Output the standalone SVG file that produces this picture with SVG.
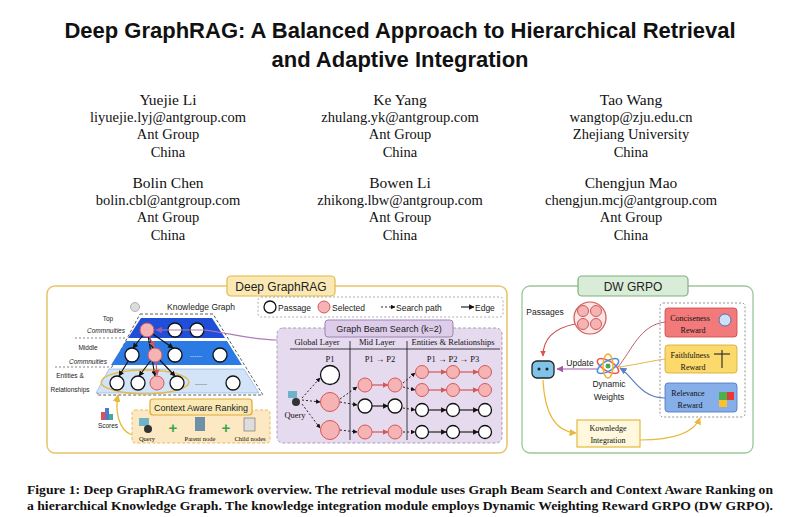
<svg xmlns="http://www.w3.org/2000/svg" width="800" height="517" viewBox="0 0 800 517">
<defs>
<style>
.t{font-family:"Liberation Serif",serif;fill:#111;text-anchor:middle}
.s{font-family:"Liberation Sans",sans-serif;fill:#222}
.w{fill:#fff;stroke:#111;stroke-width:1.3}
.p{fill:#f6b3b3;stroke:#d45858;stroke-width:1}
.e{stroke:#111;stroke-width:1.1;fill:none;marker-end:url(#ab)}
.d{stroke:#111;stroke-width:0.9;fill:none;stroke-dasharray:2 2;marker-end:url(#ab)}
.r{stroke:#d45858;stroke-width:1.2;fill:none;marker-end:url(#ar)}
</style>
<marker id="ab" viewBox="0 0 10 10" refX="9" refY="5" markerWidth="5" markerHeight="5" orient="auto"><path d="M0,0L10,5L0,10z" fill="#111"/></marker>
<marker id="ar" viewBox="0 0 10 10" refX="9" refY="5" markerWidth="5" markerHeight="5" orient="auto"><path d="M0,0L10,5L0,10z" fill="#d45858"/></marker>
<marker id="ay" viewBox="0 0 10 10" refX="9" refY="5" markerWidth="6" markerHeight="6" orient="auto"><path d="M0,0L10,5L0,10z" fill="#e7b93a"/></marker>
<marker id="ap" viewBox="0 0 10 10" refX="9" refY="5" markerWidth="6" markerHeight="6" orient="auto"><path d="M0,0L10,5L0,10z" fill="#a05aa8"/></marker>
<marker id="abl" viewBox="0 0 10 10" refX="9" refY="5" markerWidth="6" markerHeight="6" orient="auto"><path d="M0,0L10,5L0,10z" fill="#5b7fc4"/></marker>
</defs>
<rect width="800" height="517" fill="#fff"/>
<g id="header">
<text x="400" y="38" style="font-family:'Liberation Sans',sans-serif;font-weight:bold;font-size:22px;text-anchor:middle" fill="#111">Deep GraphRAG: A Balanced Approach to Hierarchical Retrieval</text>
<text x="400" y="67" style="font-family:'Liberation Sans',sans-serif;font-weight:bold;font-size:22px;text-anchor:middle" fill="#111">and Adaptive Integration</text>
<g font-size="14.5" class="t">
<text x="168" y="105" class="t" font-size="15.5">Yuejie Li</text><text x="168" y="122" class="t">liyuejie.lyj@antgroup.com</text><text x="168" y="139" class="t">Ant Group</text><text x="168" y="157" class="t">China</text>
<text x="400" y="105" class="t" font-size="15.5">Ke Yang</text><text x="400" y="122" class="t">zhulang.yk@antgroup.com</text><text x="400" y="139" class="t">Ant Group</text><text x="400" y="157" class="t">China</text>
<text x="631" y="105" class="t" font-size="15.5">Tao Wang</text><text x="631" y="122" class="t">wangtop@zju.edu.cn</text><text x="631" y="139" class="t">Zhejiang University</text><text x="631" y="157" class="t">China</text>
<text x="168" y="188" class="t" font-size="15.5">Bolin Chen</text><text x="168" y="205" class="t">bolin.cbl@antgroup.com</text><text x="168" y="222" class="t">Ant Group</text><text x="168" y="240" class="t">China</text>
<text x="400" y="188" class="t" font-size="15.5">Bowen Li</text><text x="400" y="205" class="t">zhikong.lbw@antgroup.com</text><text x="400" y="222" class="t">Ant Group</text><text x="400" y="240" class="t">China</text>
<text x="631" y="188" class="t" font-size="15.5">Chengjun Mao</text><text x="631" y="205" class="t">chengjun.mcj@antgroup.com</text><text x="631" y="222" class="t">Ant Group</text><text x="631" y="240" class="t">China</text>
</g>
</g>
<g id="deep-graphrag">
<rect x="47" y="286" width="460" height="167" rx="8" fill="#fff" stroke="#e8c46a" stroke-width="1.5"/>
<rect x="227" y="276" width="108" height="20" rx="4" fill="#fbe9b5" stroke="#e2b949" stroke-width="1.2"/>
<text x="281" y="291" class="s" font-size="12" text-anchor="middle">Deep GraphRAG</text>
<text x="167" y="310" class="s" font-size="8.5">Knowledge Graph</text>
<circle cx="135" cy="307" r="4.5" fill="#ddd" stroke="#888" stroke-width="0.6"/>
<polygon points="140,314 213,314 263,395 97,395" fill="none" stroke="#333" stroke-width="0.8" stroke-dasharray="3 2"/>
<polygon points="141,318 212,318 225,338 128,338" fill="#1f4fd8"/>
<polygon points="126,341 227,341 242,365 111,365" fill="#2c7be5"/>
<polygon points="109,369 244,369 259,393 96,393" fill="#d3e4f8" stroke="#7fa7dd" stroke-width="0.6"/>
<g class="s" font-size="6.5" text-anchor="middle"><text x="108" y="321">Top</text><text x="106" y="333" font-style="italic">Commnuities</text><text x="88" y="350">Middle</text><text x="88" y="364" font-style="italic">Commnuities</text><text x="70" y="378">Entities &amp;</text><text x="70" y="392">Relationships</text></g>
<line x1="75" y1="338" x2="127" y2="338" stroke="#333" stroke-width="0.6" stroke-dasharray="2 2"/>
<line x1="55" y1="367" x2="110" y2="367" stroke="#333" stroke-width="0.6" stroke-dasharray="2 2"/>
<ellipse cx="145" cy="382" rx="44" ry="12" fill="none" stroke="#e7b93a" stroke-width="1.3"/>
<g class="e"><path d="M147,330L133,348"/><path d="M147,330L153,348"/><path d="M147,330L173,348"/><path d="M132,355L119,376"/><path d="M155,355L139,376"/><path d="M155,355L175,376"/><path d="M147,330L155,376"/></g>
<path class="r" d="M149,336L154,347"/><path class="r" d="M156,362L157,375"/>
<circle cx="147" cy="330" r="7" class="p"/><circle cx="175" cy="330" r="7" class="w"/><circle cx="197" cy="330" r="7" class="w"/>
<circle cx="132" cy="355" r="7" class="w"/><circle cx="155" cy="355" r="7" class="p"/><circle cx="175" cy="355" r="7" class="w"/><text x="196" y="357" font-size="8" fill="#fff" text-anchor="middle">......</text><circle cx="220" cy="355" r="7" class="w"/>
<circle cx="117" cy="383" r="7" class="w"/><circle cx="138" cy="383" r="7" class="w"/><circle cx="157" cy="383" r="7" class="p"/><circle cx="177" cy="383" r="7" class="w"/><text x="201" y="385" font-size="8" fill="#333" text-anchor="middle">......</text><circle cx="233" cy="383" r="7" class="w"/>
<path d="M277,340C250,340 230,333 205,330L156,330" fill="none" stroke="#b07ab8" stroke-width="1.2" marker-end="url(#ap)"/>
<rect x="258" y="297" width="245" height="20" rx="3" fill="#fff" stroke="#999" stroke-width="0.8" stroke-dasharray="2 2"/>
<circle cx="270" cy="307" r="6" class="w"/><text x="278" y="311" class="s" font-size="8.5">Passage</text>
<circle cx="324" cy="307" r="6" class="p"/><text x="332" y="311" class="s" font-size="8.5">Selected</text>
<path class="d" d="M381,307L395,307"/><text x="396" y="311" class="s" font-size="8.5">Search path</text>
<path class="e" d="M461,307L474,307"/><text x="475" y="311" class="s" font-size="8.5">Edge</text>
</g>
<g id="beam-search">
<rect x="277" y="328" width="225" height="115" rx="6" fill="#e6daef" stroke="#a592b8" stroke-width="0.9" stroke-dasharray="3 2"/>
<rect x="325" y="320" width="128" height="17" rx="3" fill="#ddcdea" stroke="#9d85b4" stroke-width="1"/>
<text x="389" y="332" class="s" font-size="9" text-anchor="middle">Graph Beam Search (k=2)</text>
<g class="t" font-size="8.5"><text x="317" y="345">Global Layer</text><text x="377" y="345">Mid Layer</text><text x="453" y="345">Entities &amp; Relationships</text>
<text x="330" y="362">P1</text><text x="380" y="362">P1 → P2</text><text x="453" y="362">P1 → P2 → P3</text></g>
<line x1="290" y1="349" x2="500" y2="349" stroke="#111" stroke-width="0.8"/>
<line x1="350" y1="341" x2="350" y2="440" stroke="#111" stroke-width="0.8"/>
<line x1="407" y1="341" x2="407" y2="440" stroke="#111" stroke-width="0.8"/>
<rect x="288" y="391" width="9" height="7" fill="#6fb3c9"/><circle cx="296" cy="402" r="4" fill="#333"/><text x="295" y="418" class="t" font-size="8.5">Query</text>
<g class="d"><path d="M302,398L320,378"/><path d="M302,400L320,402"/><path d="M302,404L320,428"/><path d="M340,399L357,387"/><path d="M340,402L357,405"/><path d="M340,430L357,432"/><path d="M403,383L415,373"/><path d="M403,387L415,390"/><path d="M403,408L415,410"/><path d="M403,432L415,432"/></g>
<circle cx="330" cy="375" r="9.5" class="w"/><circle cx="330" cy="402" r="9.5" class="p"/><circle cx="330" cy="430" r="9.5" class="p"/>
<path class="r" d="M372,385L388,385"/><path class="e" d="M372,406L388,406"/><path class="r" d="M372,432L388,432"/>
<circle cx="365" cy="385" r="7" class="p"/><circle cx="395" cy="385" r="7" class="p"/><circle cx="365" cy="406" r="7" class="w"/><circle cx="395" cy="406" r="7" class="w"/><circle cx="365" cy="432" r="7" class="p"/><circle cx="395" cy="432" r="7" class="p"/>
<g class="r"><path d="M429,372L446,372"/><path d="M460,372L478,372"/><path d="M429,390L446,390"/><path d="M460,390L478,390"/></g>
<g class="e"><path d="M429,410L446,410"/><path d="M460,410L478,410"/><path d="M429,432L446,432"/><path d="M460,432L478,432"/></g>
<circle cx="422" cy="372" r="6.5" class="p"/><circle cx="453" cy="372" r="6.5" class="p"/><circle cx="485" cy="372" r="6.5" class="p"/>
<circle cx="422" cy="390" r="6.5" class="p"/><circle cx="453" cy="390" r="6.5" class="p"/><circle cx="485" cy="390" r="6.5" class="p"/>
<circle cx="422" cy="410" r="6.5" class="w"/><circle cx="453" cy="410" r="6.5" class="w"/><circle cx="485" cy="410" r="6.5" class="w"/>
<circle cx="422" cy="432" r="6.5" class="w"/><circle cx="453" cy="432" r="6.5" class="w"/><circle cx="485" cy="432" r="6.5" class="w"/>
</g>
<g id="context-ranking">
<rect x="132" y="410" width="138" height="33" rx="3" fill="#fde8c4" stroke="#e2b949" stroke-width="0.9" stroke-dasharray="3 2"/>
<rect x="150" y="399" width="102" height="16" rx="3" fill="#fbe9b5" stroke="#e2a830" stroke-width="1.2"/>
<text x="201" y="411" class="s" font-size="9" text-anchor="middle">Context Aware Ranking</text>
<rect x="139" y="418" width="10" height="8" fill="#6fb3c9"/><circle cx="148" cy="429" r="4" fill="#333"/>
<text x="173" y="433" font-family="Liberation Sans,sans-serif" font-size="15" fill="#3aa64a" font-weight="bold" text-anchor="middle">+</text>
<rect x="195" y="417" width="10" height="14" fill="#6d8fa8"/>
<text x="226" y="433" font-family="Liberation Sans,sans-serif" font-size="15" fill="#3aa64a" font-weight="bold" text-anchor="middle">+</text>
<rect x="244" y="418" width="11" height="13" fill="#ddd" stroke="#666" stroke-width="0.6"/>
<g class="t" font-size="6.5"><text x="147" y="441">Query</text><text x="200" y="441">Parent node</text><text x="250" y="441">Child nodes</text></g>
<rect x="101" y="412" width="4" height="8" fill="#e05050"/><rect x="105" y="408" width="4" height="12" fill="#5577cc"/><rect x="109" y="414" width="4" height="6" fill="#4a9"/>
<text x="108" y="428" class="s" font-size="6.5" text-anchor="middle">Scores</text>
<path d="M132,435C118,430 115,410 118,395" fill="none" stroke="#e7b93a" stroke-width="1.3" marker-end="url(#ay)"/>
</g>
<g id="dw-grpo">
<rect x="522" y="286" width="231" height="167" rx="8" fill="#fff" stroke="#9cc79a" stroke-width="1.3"/>
<rect x="578" y="276" width="110" height="20" rx="4" fill="#d8ecd8" stroke="#7fb07d" stroke-width="1.2"/>
<text x="633" y="291" class="s" font-size="12" text-anchor="middle">DW GRPO</text>
<text x="545" y="315" class="s" font-size="8.5" text-anchor="middle">Passages</text>
<circle cx="590" cy="318" r="16" fill="#fbe3e3" stroke="#d05a5a" stroke-width="1.2"/>
<circle cx="583" cy="311" r="5.5" fill="#f6b3b3" stroke="#d05a5a"/><circle cx="596" cy="311" r="5.5" fill="#f6b3b3" stroke="#d05a5a"/><circle cx="583" cy="324" r="5.5" fill="#f6b3b3" stroke="#d05a5a"/><circle cx="596" cy="324" r="5.5" fill="#f6b3b3" stroke="#d05a5a"/>
<path d="M575,324C555,328 543,338 543,356" fill="none" stroke="#c95050" stroke-width="1.2" marker-end="url(#ar)"/>
<rect x="532" y="361" width="22" height="17" rx="5" fill="#7fc4e8" stroke="#222" stroke-width="1.3"/><circle cx="539" cy="369" r="1.5" fill="#222"/><circle cx="547" cy="369" r="1.5" fill="#222"/>
<text x="580" y="366" class="s" font-size="8.5" text-anchor="middle">Update</text>
<path d="M597,369L557,369" fill="none" stroke="#a05aa8" stroke-width="1.2" marker-end="url(#ap)"/>
<ellipse cx="608" cy="366" rx="12" ry="5" fill="none" stroke="#e55" stroke-width="1.5" transform="rotate(30 608 366)"/>
<ellipse cx="608" cy="366" rx="12" ry="5" fill="none" stroke="#4a8de0" stroke-width="1.5" transform="rotate(-30 608 366)"/>
<ellipse cx="608" cy="366" rx="12" ry="5" fill="none" stroke="#f0b030" stroke-width="1.5" transform="rotate(90 608 366)"/>
<circle cx="608" cy="366" r="2.5" fill="#4a4"/>
<text x="609" y="387" class="s" font-size="8.5" text-anchor="middle">Dynamic</text><text x="609" y="400" class="s" font-size="8.5" text-anchor="middle">Weights</text>
<rect x="660" y="303" width="85" height="114" rx="3" fill="none" stroke="#777" stroke-width="0.8" stroke-dasharray="2 2"/>
<rect x="665" y="308" width="72" height="29" rx="3" fill="#f27a7a" stroke="#c44" stroke-width="0.8"/>
<rect x="665" y="345" width="72" height="28" rx="3" fill="#fcd96b" stroke="#d0a830" stroke-width="0.8"/>
<rect x="665" y="383" width="72" height="29" rx="3" fill="#86aee8" stroke="#4a74c0" stroke-width="0.8"/>
<g class="t" font-size="8"><text x="690" y="321">Conciseness</text><text x="693" y="333">Reward</text><text x="690" y="358">Faithfulness</text><text x="693" y="370">Reward</text><text x="688" y="396">Relevance</text><text x="690" y="408">Reward</text></g>
<circle cx="725" cy="320" r="6" fill="#cfe0f5" stroke="#4a74c0"/>
<line x1="722" y1="350" x2="722" y2="368" stroke="#333" stroke-width="1.2"/><line x1="714" y1="354" x2="730" y2="354" stroke="#333" stroke-width="1.2"/>
<rect x="719" y="392" width="8" height="8" fill="#4caf50"/><rect x="727" y="392" width="7" height="8" fill="#e53935"/><rect x="719" y="400" width="8" height="7" fill="#fbc02d"/>
<path d="M665,322C640,325 632,350 618,367" fill="none" stroke="#c06070" stroke-width="1"/>
<path d="M665,359C645,362 630,366 618,367" fill="none" stroke="#e5b54a" stroke-width="1"/>
<path d="M665,398C640,398 632,375 620,368" fill="none" stroke="#5b7fc4" stroke-width="1.2" marker-end="url(#abl)"/>
<path d="M543,380C545,420 560,432 576,433" fill="none" stroke="#e7b93a" stroke-width="1.2" marker-end="url(#ay)"/>
<rect x="577" y="420" width="63" height="27" fill="#fff8dc" stroke="#e7b93a" stroke-width="1.2"/>
<text x="608" y="431" class="t" font-size="8">Kownledge</text><text x="608" y="443" class="t" font-size="8">Integration</text>
<path d="M640,440C680,440 695,430 700,418" fill="none" stroke="#e7b93a" stroke-width="1.2" marker-end="url(#ay)"/>
</g>
<g id="caption" font-family="Liberation Serif,serif" font-weight="bold" font-size="11.6" fill="#111">
<text x="27" y="494" textLength="746" lengthAdjust="spacingAndGlyphs">Figure 1: Deep GraphRAG framework overview. The retrieval module uses Graph Beam Search and Context Aware Ranking on</text>
<text x="27" y="510" textLength="746" lengthAdjust="spacingAndGlyphs">a hierarchical Knowledge Graph. The knowledge integration module employs Dynamic Weighting Reward GRPO (DW GRPO).</text>
</g>
</svg>
